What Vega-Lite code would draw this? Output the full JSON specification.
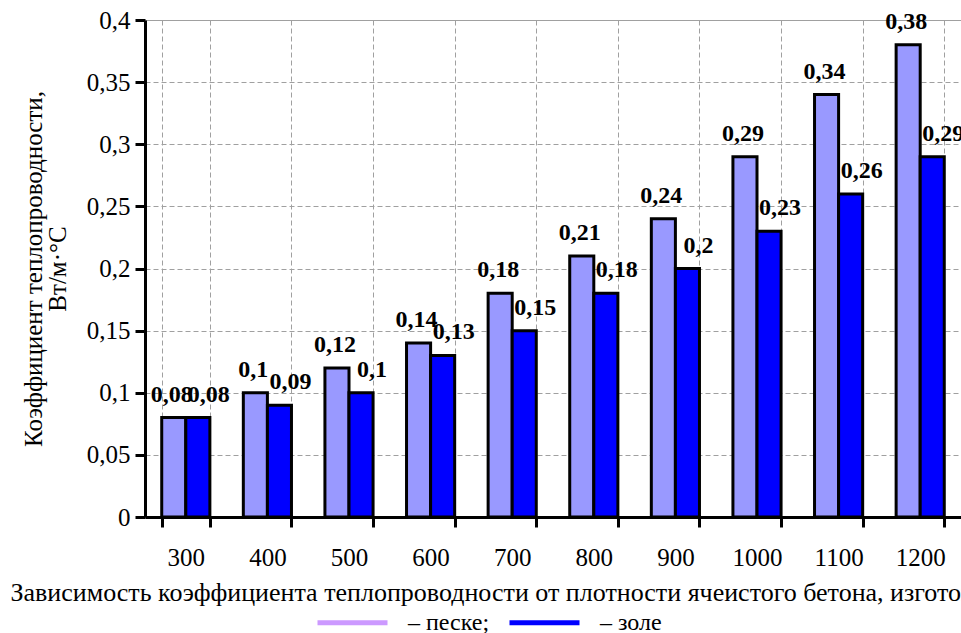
{
  "$schema": "https://vega.github.io/schema/vega-lite/v6.json",
  "autosize": {"type": "none"},
  "width": 816,
  "height": 497,
  "padding": {"left": 145, "top": 20, "right": 0, "bottom": 116},
  "background": "white",
  "config": {
    "view": {"stroke": null},
    "font": "Times New Roman, Liberation Serif, serif",
    "axis": {"labelFont": "Times New Roman, Liberation Serif, serif", "titleFont": "Times New Roman, Liberation Serif, serif"},
    "legend": {"labelFont": "Times New Roman, Liberation Serif, serif", "titleFont": "Times New Roman, Liberation Serif, serif"},
    "text": {"font": "Times New Roman, Liberation Serif, serif"},
    "locale": {"number": {"decimal": ",", "thousands": " ", "grouping": [3], "currency": ["", ""]}}
  },
  "data": {
    "values": [
      {"density": 300, "series": "песке", "value": 0.08},
      {"density": 300, "series": "золе", "value": 0.08},
      {"density": 400, "series": "песке", "value": 0.1},
      {"density": 400, "series": "золе", "value": 0.09},
      {"density": 500, "series": "песке", "value": 0.12},
      {"density": 500, "series": "золе", "value": 0.1},
      {"density": 600, "series": "песке", "value": 0.14},
      {"density": 600, "series": "золе", "value": 0.13},
      {"density": 700, "series": "песке", "value": 0.18},
      {"density": 700, "series": "золе", "value": 0.15},
      {"density": 800, "series": "песке", "value": 0.21},
      {"density": 800, "series": "золе", "value": 0.18},
      {"density": 900, "series": "песке", "value": 0.24},
      {"density": 900, "series": "золе", "value": 0.2},
      {"density": 1000, "series": "песке", "value": 0.29},
      {"density": 1000, "series": "золе", "value": 0.23},
      {"density": 1100, "series": "песке", "value": 0.34},
      {"density": 1100, "series": "золе", "value": 0.26},
      {"density": 1200, "series": "песке", "value": 0.38},
      {"density": 1200, "series": "золе", "value": 0.29}
    ]
  },
  "encoding": {
    "x": {
      "field": "density",
      "type": "ordinal",
      "scale": {"paddingInner": 0.41, "paddingOuter": 0.205},
      "axis": {
        "tickBand": "extent",
        "grid": true,
        "gridColor": "#a0a0a0",
        "gridDash": [5, 3],
        "gridWidth": 1,
        "domainColor": "black",
        "domainWidth": 3,
        "tickColor": "black",
        "tickWidth": 3,
        "tickSize": 10,
        "labelAngle": 0,
        "labelFontSize": 25,
        "labelColor": "black",
        "labelPadding": 18,
        "title": "Зависимость коэффициента теплопроводности от плотности ячеистого бетона, изготовленного на:",
        "titleAnchor": "start",
        "titleAlign": "left",
        "titleX": -135,
        "titleFontSize": 26,
        "titleFontWeight": "normal",
        "titleColor": "black",
        "titlePadding": 9,
        "titleLimit": 3000
      }
    },
    "xOffset": {"field": "series", "sort": ["песке", "золе"]},
    "y": {
      "field": "value",
      "type": "quantitative",
      "scale": {"domain": [0, 0.4], "nice": false},
      "axis": {
        "values": [0, 0.05, 0.1, 0.15, 0.2, 0.25, 0.3, 0.35, 0.4],
        "format": "~g",
        "grid": true,
        "gridColor": "#a0a0a0",
        "gridDash": {"condition": {"test": "datum.value >= 0.4", "value": []}, "value": [5, 3]},
        "gridWidth": 1,
        "domainColor": "black",
        "domainWidth": 3,
        "tickColor": "black",
        "tickWidth": 3,
        "tickSize": 10,
        "labelFontSize": 25,
        "labelColor": "black",
        "labelPadding": 5,
        "title": ["Коэффициент теплопроводности,", "Вт/м·°С"],
        "titleFontSize": 25,
        "titleFontWeight": "normal",
        "titleColor": "black",
        "titlePadding": 16,
        "titleLineHeight": 24
      }
    }
  },
  "resolve": {"scale": {"color": "independent"}},
  "layer": [
    {
      "mark": {"type": "bar", "filled": false},
      "encoding": {
        "color": {
          "field": "series",
          "type": "nominal",
          "scale": {"domain": ["песке", "золе"], "range": ["#CC99FF", "#0000FF"]},
          "legend": {
            "orient": "none",
            "legendX": 170,
            "legendY": 565,
            "direction": "horizontal",
            "columns": 2,
            "title": null,
            "symbolType": "stroke",
            "symbolSize": 4900,
            "symbolStrokeWidth": 5,
            "labelFontSize": 24,
            "labelColor": "black",
            "labelOffset": 18,
            "columnPadding": 9,
            "labelExpr": "datum.label == 'песке' ? '– песке;' : '– золе'"
          }
        }
      }
    },
    {
      "mark": {"type": "bar", "stroke": "black", "strokeWidth": 3},
      "encoding": {
        "color": {
          "field": "series",
          "type": "nominal",
          "scale": {"domain": ["песке", "золе"], "range": ["#9999FF", "#0000FF"]},
          "legend": null
        }
      }
    },
    {
      "transform": [{"filter": "datum.series == 'песке'"}],
      "mark": {"type": "text", "baseline": "bottom", "dy": -11, "dx": -2, "fontWeight": "bold", "fontSize": 24, "color": "black"},
      "encoding": {"text": {"field": "value", "type": "quantitative", "format": "~g"}}
    },
    {
      "transform": [{"filter": "datum.series == 'золе'"}],
      "mark": {"type": "text", "baseline": "bottom", "dy": -11, "dx": 11, "fontWeight": "bold", "fontSize": 24, "color": "black"},
      "encoding": {"text": {"field": "value", "type": "quantitative", "format": "~g"}}
    }
  ]
}
